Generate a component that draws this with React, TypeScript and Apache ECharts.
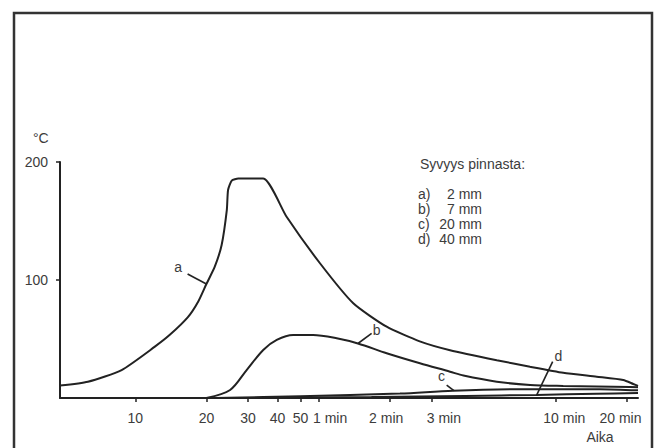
import React, { useEffect, useRef } from "react";
import * as echarts from "echarts";

// Time (seconds) and temperature (°C) readings
const curveA: [number, number][] = [
  [4.8, 10.5], [6.3, 13.8], [8.75, 23.7], [12.1, 43.5], [14.0, 53.5], [16.7, 68.5],
  [18.5, 82], [20.0, 96.6], [21.7, 111.3], [23.2, 129.7], [24.4, 159.3], [24.7, 176.3],
  [25.6, 184.2], [27.3, 186], [34.8, 186], [43.7, 153.6], [60.5, 114.2], [83.7, 80.3],
  [115.9, 60.4], [160, 48], [215, 40.5], [339, 32], [469, 26.5], [648, 21.4], [898, 18.1],
  [1163, 15.3], [1282, 11.9], [1343, 10.2],
];
const curveB: [number, number][] = [
  [20.0, 0], [25.2, 6.8], [29.6, 23.7], [34.8, 40.7], [39.7, 49.2], [46.6, 53.4],
  [56.6, 53.4], [71.2, 50.6], [87.6, 46.2], [115.9, 37.9], [160.3, 29.4], [215, 22.3],
  [245, 19], [339, 13.8], [469, 11], [648, 10.2], [1242, 9.3], [1343, 9.1],
];
const curveC: [number, number][] = [
  [21.7, 0], [50, 1.5], [132, 3.8], [221, 6.2], [469, 7.5], [926, 7.5], [1343, 6.5],
];
const curveD: [number, number][] = [
  [28, 0], [100, 0.8], [250, 1.8], [500, 2.6], [900, 3.6], [1343, 4.2],
];

const curveNames = ["a", "b", "c", "d"];
// leader lines: [from, to] and label position per curve
const leaderLines: [number, number][][] = [
  [[16.65, 105.1], [20.0, 96.6]],
  [[100.1, 54.8], [87.9, 46.4]],
  [[208, 11.0], [223.3, 6.2]],
  [[584.6, 30.8], [500, 2.5]],
];
const leaderLabels: [number, number][] = [
  [15.2, 111.3], [105.1, 58], [198, 18.6], [617.4, 35.6],
];

const xTicks = [10, 20, 30, 40, 50, 60, 120, 180, 600, 1200];
const xTickLabels = ["10", "20", "30", "40", "50", "1 min", "2 min", "3 min", "10 min", "20 min"];
const yTicks = [100, 200];

const legendTitle = "Syvyys pinnasta:";
const legendKeys = ["a)", "b)", "c)", "d)"];
const legendValues = ["2 mm", "7 mm", "20 mm", "40 mm"];

const FONT = "'Liberation Sans', Arial, sans-serif";
const TEXT = "#3c3c3c";
const INK = "#222";

export default function App() {
  const ref = useRef<HTMLDivElement>(null);
  useEffect(() => {
    if (!ref.current) return;
    const chart = echarts.init(ref.current, undefined, { renderer: "svg" });
    const nudge = ["", "", "", "", "", "p11", "n4", "p12", "p9", "n6"];
    const smoothness = [0.2, 0.3, 0.3, 0.3];
    const nearest = (v: number) => {
      let best = 0;
      let bd = Infinity;
      xTicks.forEach((t, i) => {
        const d = Math.abs(Math.log(v) - Math.log(t));
        if (d < bd) { bd = d; best = i; }
      });
      return best;
    };
    const seriesData = [curveA, curveB, curveC, curveD];
    const graphic: any[] = [
      { type: "rect", shape: { x: 14, y: 13, width: 638, height: 470 }, style: { fill: "none", stroke: "#333", lineWidth: 2.5 } },
      { type: "text", x: 33, y: 138, style: { text: "°C", font: `14px ${FONT}`, fill: TEXT, verticalAlign: "middle" } },
      { type: "text", x: 600, y: 437, style: { text: "Aika", font: `14px ${FONT}`, fill: TEXT, align: "center", verticalAlign: "middle" } },
      { type: "text", x: 420, y: 164, style: { text: legendTitle, font: `14px ${FONT}`, fill: TEXT, verticalAlign: "middle" } },
    ];
    legendKeys.forEach((k, i) => {
      const y = 193.5 + i * 15.3;
      graphic.push({ type: "text", x: 418, y, style: { text: k, font: `14px ${FONT}`, fill: TEXT, verticalAlign: "middle" } });
      graphic.push({ type: "text", x: 482, y, style: { text: legendValues[i], font: `14px ${FONT}`, fill: TEXT, align: "right", verticalAlign: "middle" } });
    });
    chart.setOption({
      animation: false,
      backgroundColor: "#fff",
      grid: { left: 60, right: 21, top: 162, bottom: 50, containLabel: false },
      xAxis: {
        type: "log",
        logBase: 10,
        min: 4.8,
        max: 1343,
        axisLine: { lineStyle: { color: INK, width: 2 } },
        axisTick: { customValues: xTicks, length: 4, lineStyle: { color: INK, width: 1.5 } },
        minorTick: { show: false },
        splitLine: { show: false },
        axisLabel: {
          customValues: xTicks,
          margin: 13,
          fontSize: 14,
          fontFamily: FONT,
          color: TEXT,
          formatter: (v: number) => {
            const i = nearest(v);
            const n = nudge[i];
            return n ? `{${n}|${xTickLabels[i]}}` : xTickLabels[i];
          },
          rich: {
            p11: { padding: [0, 0, 0, 22], fontSize: 14, fontFamily: FONT, color: TEXT },
            p12: { padding: [0, 0, 0, 24], fontSize: 14, fontFamily: FONT, color: TEXT },
            p9: { padding: [0, 0, 0, 18], fontSize: 14, fontFamily: FONT, color: TEXT },
            n4: { padding: [0, 8, 0, 0], fontSize: 14, fontFamily: FONT, color: TEXT },
            n6: { padding: [0, 12, 0, 0], fontSize: 14, fontFamily: FONT, color: TEXT },
          },
        },
      },
      yAxis: {
        type: "value",
        min: 0,
        max: 200,
        interval: 100,
        axisLine: { show: true, lineStyle: { color: INK, width: 2 } },
        axisTick: { show: true, customValues: yTicks, length: 4, lineStyle: { color: INK, width: 1.5 } },
        splitLine: { show: false },
        axisLabel: { customValues: yTicks, margin: 12, fontSize: 14, fontFamily: FONT, color: TEXT },
      },
      series: seriesData.map((d, i) => ({
        name: curveNames[i],
        type: "line",
        data: d,
        showSymbol: false,
        symbol: "none",
        smooth: smoothness[i],
        lineStyle: { color: INK, width: 2 },
        markLine: {
          silent: true,
          symbol: ["none", "none"],
          label: { show: false },
          lineStyle: { color: INK, width: 1.6, type: "solid" },
          data: [[{ coord: leaderLines[i][0] }, { coord: leaderLines[i][1] }]],
        },
        markPoint: {
          silent: true,
          symbol: "circle",
          symbolSize: 1,
          itemStyle: { color: "rgba(0,0,0,0)" },
          label: { show: true, position: "inside", formatter: curveNames[i], fontSize: 14, fontFamily: FONT, color: TEXT },
          data: [{ coord: leaderLabels[i] }],
        },
      })),
      graphic,
    });
    return () => chart.dispose();
  }, []);
  return (
    <div
      ref={ref}
      style={{ position: "absolute", left: 0, top: 0, width: 659, height: 448, background: "#fff" }}
    />
  );
}
